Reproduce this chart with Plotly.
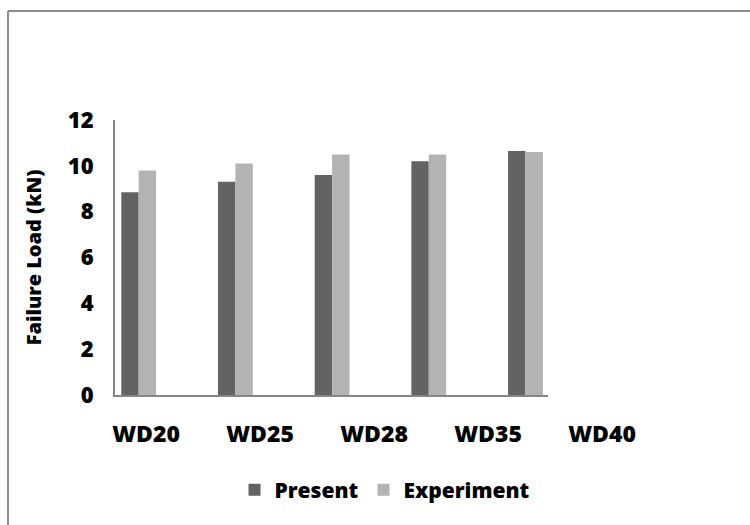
import plotly.graph_objects as go

categories = ["WD20", "WD25", "WD28", "WD35", "WD40"]
present = [8.85, 9.3, 9.6, 10.2, 10.65]
experiment = [9.8, 10.1, 10.5, 10.5, 10.6]
y_ticks = [0, 2, 4, 6, 8, 10, 12]

W, H = 750, 525
ML, MR, MT, MB = 80, 50, 120, 130
PW, PH = W - ML - MR, H - MT - MB


def px_x(p):
    return (p - ML) / PW


def px_y(p):
    return (H - MB - p) / PH


idx = list(range(len(categories)))
FAM = "Open Sans, Lato, sans-serif"


def bold(size):
    return dict(size=size, family=FAM, weight=800, color="#000000")


fig = go.Figure()
fig.add_trace(go.Bar(x=idx, y=present, name="Present",
                     marker=dict(color="#636363", line=dict(width=0))))
fig.add_trace(go.Bar(x=idx, y=experiment, name="Experiment",
                     marker=dict(color="#b3b3b3", line=dict(width=0))))
# carrier trace for the category label axis
fig.add_trace(go.Scatter(x=idx, y=[0] * len(idx), xaxis="x2", yaxis="y", mode="markers",
                         marker=dict(opacity=0), showlegend=False, hoverinfo="skip"))

fig.update_layout(
    width=W, height=H,
    margin=dict(l=ML, r=MR, t=MT, b=MB),
    paper_bgcolor="white", plot_bgcolor="rgba(0,0,0,0)",
    barmode="group", bargap=0.64, bargroupgap=0,
    font=bold(18),
    xaxis=dict(domain=[px_x(115), px_x(548)], range=[-0.245, 4.233],
               showticklabels=False, ticks="", showgrid=False, zeroline=False,
               showline=True, linecolor="#868686", linewidth=2),
    xaxis2=dict(domain=[px_x(89), px_x(659)], range=[-0.5, 4.5], anchor="y",
                side="bottom", tickmode="array", tickvals=idx,
                ticktext=categories, showgrid=False, zeroline=False, showline=False,
                ticks="", ticklabelstandoff=23, tickfont=bold(23)),
    yaxis=dict(range=[0, 12], tickvals=y_ticks, showgrid=False, zeroline=False,
               showline=True, linecolor="#868686", linewidth=2, ticks="",
               ticklabelstandoff=15, tickfont=bold(22),
               title=dict(text="Failure Load (kN)", standoff=21, font=bold(20))),
    legend=dict(orientation="h", x=px_x(234.5), y=px_y(490), xanchor="left", yanchor="middle",
                font=bold(21), itemwidth=30, bgcolor="rgba(0,0,0,0)"),
    shapes=[
        dict(type="line", xref="paper", yref="paper", x0=px_x(8), x1=px_x(760),
             y0=px_y(11), y1=px_y(11), line=dict(color="#8c8c8c", width=2)),
        dict(type="line", xref="paper", yref="paper", x0=px_x(8), x1=px_x(8),
             y0=px_y(11), y1=px_y(540), line=dict(color="#8c8c8c", width=2)),
    ],
)

fig.write_html("out.html")
